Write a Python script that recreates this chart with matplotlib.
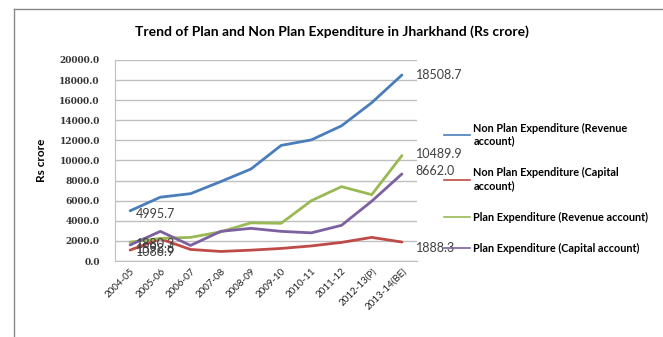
import matplotlib.pyplot as plt
from matplotlib.lines import Line2D

years = ['2004-05', '2005-06', '2006-07', '2007-08', '2008-09', '2009-10',
         '2010-11', '2011-12', '2012-13(P)', '2013-14(BE)']
nonplan_rev = [4995.7, 6350, 6700, 7900, 9150, 11500, 12050, 13450, 15750, 18508.7]
nonplan_cap = [1086.9, 2200, 1150, 950, 1080, 1250, 1500, 1850, 2350, 1888.3]
plan_rev = [1880.3, 2250, 2350, 2900, 3800, 3750, 6000, 7400, 6600, 10489.9]
plan_cap = [1598.6, 2950, 1550, 2950, 3250, 2950, 2800, 3550, 5950, 8662.0]

names = ['Non Plan Expenditure (Revenue\naccount)',
         'Non Plan Expenditure (Capital\naccount)',
         'Plan Expenditure (Revenue account)',
         'Plan Expenditure (Capital account)']
colors = ['#4a7ebb', '#be4b48', '#98b954', '#7d60a0']
series = [nonplan_rev, nonplan_cap, plan_rev, plan_cap]

fig = plt.figure(figsize=(6.63, 3.37), dpi=100)
ax = fig.add_axes([0.1735, 0.2255, 0.4555, 0.5965])

x = list(range(len(years)))
for vals, c in zip(series, colors):
    ax.plot(x, vals, color=c, lw=2, solid_capstyle='round')

lab_col = '#404040'
# start labels (they overlap in the original too)
ax.annotate(f'{nonplan_rev[0]:.1f}', (0, nonplan_rev[0]), xytext=(4, -2),
            textcoords='offset points', fontsize=9, color=lab_col,
            family='Lato', va='center')
ax.annotate(f'{plan_rev[0]:.1f}', (0, plan_rev[0]), xytext=(4, -4),
            textcoords='offset points', fontsize=9, color=lab_col, family='Lato')
ax.annotate(f'{plan_cap[0]:.1f}', (0, plan_cap[0]), xytext=(4, -6),
            textcoords='offset points', fontsize=9, color=lab_col, family='Lato')
ax.annotate(f'{nonplan_cap[0]:.1f}', (0, nonplan_cap[0]), xytext=(4, -4),
            textcoords='offset points', fontsize=9, color=lab_col, family='Lato')
# end labels
for vals, dy in zip(series, [0, -4, 1, 2]):
    ax.annotate(f'{vals[-1]:.1f}', (9, vals[-1]), xytext=(10, dy),
                textcoords='offset points', fontsize=9, color=lab_col,
                family='Lato', va='center')

ax.set_xlim(-0.5, 9.5)
ax.set_ylim(0, 20000)
ax.set_yticks(range(0, 20001, 2000))
ax.set_yticklabels([f'{v:.1f}' for v in range(0, 20001, 2000)],
                   fontsize=6.5, family='DejaVu Serif', fontweight='bold', color='#333333')
ax.set_xticks(x)
ax.set_xticklabels(years, rotation=45, ha='right', rotation_mode='anchor',
                   fontsize=7, family='Lato', color='#222222')
ax.tick_params(axis='y', length=0, pad=11)
ax.tick_params(axis='x', length=0, pad=4)
ax.grid(axis='y', color='#bfbfbf', lw=1)
ax.set_axisbelow(True)
for s in ['top', 'right']:
    ax.spines[s].set_visible(False)
for s in ['left', 'bottom']:
    ax.spines[s].set_color('#bfbfbf')
ax.set_ylabel('Rs crore', fontsize=8.5, family='Lato', fontweight='bold', labelpad=9)

fig.text(0.50, 0.905, 'Trend of Plan and Non Plan Expenditure in Jharkhand (Rs crore)',
         ha='center', va='center', fontsize=10, family='Lato', fontweight='bold')

handles = [Line2D([], [], color=c, lw=1.2) for c in colors]
fig.legend(handles, names, loc='upper left', bbox_to_anchor=(0.655, 0.665),
           frameon=False, handlelength=2.4, handletextpad=0.3, labelspacing=1.9,
           prop={'family': 'Lato', 'weight': 'bold', 'size': 7.8})

# outer frame edges
fig.add_artist(Line2D([0.021, 0.021], [0, 0.973], color='#888888', lw=1))
fig.add_artist(Line2D([0.021, 1], [0.973, 0.973], color='#888888', lw=1))

fig.savefig('out.png', dpi=100)
